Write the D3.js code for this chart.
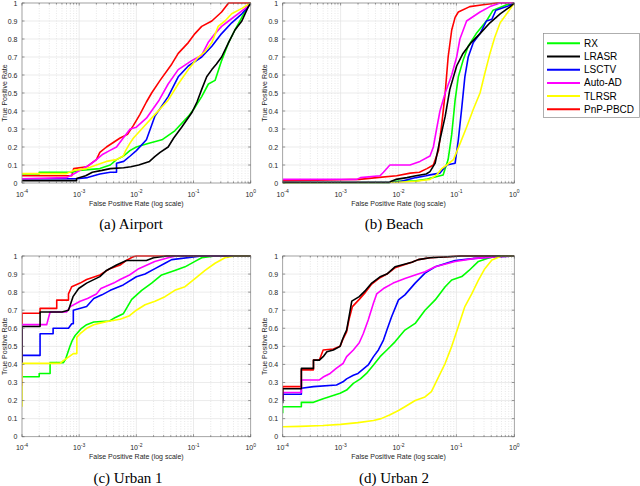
<!DOCTYPE html>
<html>
<head>
<meta charset="utf-8">
<script src="https://cdn.jsdelivr.net/npm/d3@7/dist/d3.min.js"></script>
<style>
  body { margin: 0; background: #fff; }
  svg { display: block; }
</style>
</head>
<body>
<div id="chart"></div>
<script>
// ---- legend / series ----
const methodNames = ["RX", "LRASR", "LSCTV", "Auto-AD", "TLRSR", "PnP-PBCD"];
const methodColors = ["#00ff00", "#000000", "#0000ff", "#ff00ff", "#ffff00", "#ff0000"];
// which series gets drawn first (red under the rest, black on top)
const drawOrder = [5, 0, 2, 3, 4, 1];

const xTickValues = [1e-4, 1e-3, 1e-2, 1e-1, 1];
const xTickExponents = ["-4", "-3", "-2", "-1", "0"];
const yTickValues = [0, 0.1, 0.2, 0.3, 0.4, 0.5, 0.6, 0.7, 0.8, 0.9, 1];
const yTickLabels = ["0", "0.1", "0.2", "0.3", "0.4", "0.5", "0.6", "0.7", "0.8", "0.9", "1"];

// ---- (a) Airport : [fpr, tpr] ----
const airportRX = [[1e-4,0.05],[2e-4,0.05],[2e-4,0.06],[7.4e-4,0.06],[1e-3,0.07],[2.3e-3,0.08],[3.5e-3,0.1],[4.5e-3,0.13],[6e-3,0.15],[7.7e-3,0.18],[1e-2,0.2],[1.6e-2,0.22],[2.8e-2,0.24],[4.7e-2,0.29],[8.1e-2,0.37],[0.106,0.42],[0.139,0.48],[0.182,0.55],[0.238,0.57],[0.31,0.68],[0.41,0.78],[0.53,0.85],[0.7,0.92],[0.85,0.97],[1,1]];
const airportLRASR = [[1e-4,0.013],[9e-4,0.013],[9e-4,0.025],[1.3e-3,0.04],[1.7e-3,0.06],[2.5e-3,0.07],[3.5e-3,0.08],[6e-3,0.085],[8e-3,0.09],[1.1e-2,0.1],[1.7e-2,0.12],[2.1e-2,0.146],[2.6e-2,0.17],[3.6e-2,0.2],[4.5e-2,0.25],[6.2e-2,0.31],[9.3e-2,0.39],[0.115,0.45],[0.139,0.52],[0.17,0.59],[0.209,0.63],[0.25,0.66],[0.31,0.7],[0.41,0.78],[0.53,0.85],[0.7,0.9],[0.91,0.98],[1,1]];
const airportLSCTV = [[1e-4,0.024],[9e-4,0.024],[1.4e-3,0.03],[2.3e-3,0.05],[3.5e-3,0.06],[4.5e-3,0.06],[4.5e-3,0.11],[6e-3,0.12],[7.8e-3,0.15],[1e-2,0.18],[1.5e-2,0.24],[2.1e-2,0.37],[3.6e-2,0.48],[5.4e-2,0.59],[8.1e-2,0.65],[0.139,0.7],[0.209,0.76],[0.31,0.83],[0.465,0.89],[0.7,0.94],[0.91,0.98],[1,1]];
const airportAutoAD = [[1e-4,0.024],[6e-4,0.03],[8e-4,0.05],[1.03e-3,0.07],[1.5e-3,0.1],[2e-3,0.13],[2.6e-3,0.16],[3.4e-3,0.18],[4.5e-3,0.2],[5.9e-3,0.25],[7.8e-3,0.3],[1e-2,0.31],[1.5e-2,0.36],[2.5e-2,0.46],[3.6e-2,0.55],[5.4e-2,0.63],[9.3e-2,0.68],[0.139,0.71],[0.18,0.78],[0.238,0.83],[0.31,0.87],[0.41,0.9],[0.6,0.94],[0.8,0.97],[1,1]];
const airportTLRSR = [[1e-4,0.052],[6e-4,0.052],[8e-4,0.07],[1.35e-3,0.08],[2e-3,0.1],[3e-3,0.12],[4.5e-3,0.13],[5.9e-3,0.15],[6.5e-3,0.18],[7.7e-3,0.22],[8.9e-3,0.25],[1.24e-2,0.3],[2.1e-2,0.38],[3.6e-2,0.46],[5.4e-2,0.55],[8.1e-2,0.63],[0.122,0.7],[0.159,0.73],[0.209,0.78],[0.27,0.87],[0.355,0.9],[0.465,0.94],[0.7,0.97],[1,1]];
const airportPnP = [[1e-4,0.04],[7.4e-4,0.04],[8e-4,0.08],[1.35e-3,0.09],[2e-3,0.13],[2.3e-3,0.17],[3e-3,0.2],[5.2e-3,0.25],[7e-3,0.27],[8.9e-3,0.32],[1.15e-2,0.38],[1.5e-2,0.45],[1.85e-2,0.5],[2.6e-2,0.57],[4.15e-2,0.66],[5.4e-2,0.72],[8.1e-2,0.78],[0.106,0.83],[0.139,0.87],[0.209,0.9],[0.31,0.95],[0.41,1],[1,1]];

// ---- (b) Beach ----
const beachRX = [[1e-4,0.003],[7e-3,0.003],[8e-3,0.01],[2e-2,0.012],[3e-2,0.02],[3.5e-2,0.026],[5.9e-2,0.045],[7.2e-2,0.13],[8.3e-2,0.27],[9.5e-2,0.46],[0.108,0.59],[0.13,0.68],[0.16,0.76],[0.22,0.83],[0.33,0.9],[0.43,0.96],[0.74,0.99],[1,1]];
const beachLRASR = [[1e-4,0.003],[7e-3,0.003],[7.5e-3,0.01],[9e-3,0.02],[1.4e-2,0.03],[2e-2,0.04],[3e-2,0.05],[3.5e-2,0.063],[4.3e-2,0.11],[5.2e-2,0.24],[6.4e-2,0.37],[7.7e-2,0.52],[0.101,0.65],[0.13,0.72],[0.18,0.78],[0.256,0.83],[0.38,0.89],[0.57,0.94],[0.85,0.98],[1,1]];
const beachLSCTV = [[1e-4,0.004],[1e-2,0.005],[2e-2,0.03],[3e-2,0.04],[3.5e-2,0.045],[5.2e-2,0.055],[6.8e-2,0.1],[9.5e-2,0.11],[0.108,0.24],[0.124,0.42],[0.14,0.59],[0.16,0.7],[0.196,0.78],[0.256,0.83],[0.33,0.9],[0.41,0.91],[0.48,0.96],[0.74,0.98],[1,1]];
const beachAutoAD = [[1e-4,0.02],[1.9e-3,0.02],[2.2e-3,0.03],[4.8e-3,0.04],[5.5e-3,0.06],[7.1e-3,0.1],[1.58e-2,0.1],[2.35e-2,0.12],[3.5e-2,0.15],[4e-2,0.2],[4.55e-2,0.3],[5.2e-2,0.4],[6.4e-2,0.5],[8.3e-2,0.6],[0.101,0.7],[0.115,0.8],[0.15,0.9],[0.256,0.95],[0.38,0.98],[0.57,1],[1,1]];
const beachTLRSR = [[1e-4,0.003],[1e-2,0.004],[2e-2,0.01],[3.5e-2,0.02],[4.55e-2,0.045],[5.6e-2,0.08],[6.8e-2,0.1],[8.9e-2,0.13],[0.116,0.22],[0.15,0.31],[0.196,0.41],[0.256,0.5],[0.31,0.61],[0.38,0.72],[0.46,0.81],[0.57,0.89],[0.74,0.94],[1,1]];
const beachPnP = [[1e-4,0.012],[1e-3,0.018],[2.1e-3,0.02],[4.2e-3,0.03],[9.3e-3,0.04],[1.6e-2,0.055],[2.3e-2,0.06],[3.1e-2,0.08],[4e-2,0.1],[4.9e-2,0.18],[5.6e-2,0.33],[6.4e-2,0.5],[7.2e-2,0.7],[8.3e-2,0.85],[0.095,0.92],[0.108,0.95],[0.17,0.98],[0.29,0.99],[0.5,1],[1,1]];

// ---- (c) Urban 1 ----
const urban1RX = [[1e-4,0.332],[2e-4,0.332],[2e-4,0.35],[3.1e-4,0.35],[3.1e-4,0.41],[5.3e-4,0.41],[5.8e-4,0.43],[6.4e-4,0.47],[6.9e-4,0.5],[7.5e-4,0.53],[8.5e-4,0.56],[1.1e-3,0.6],[1.35e-3,0.62],[1.8e-3,0.635],[3.4e-3,0.64],[4.3e-3,0.66],[5.9e-3,0.68],[7e-3,0.72],[8.3e-3,0.76],[1.24e-2,0.81],[1.85e-2,0.85],[2.77e-2,0.895],[4.7e-2,0.92],[7.1e-2,0.94],[0.106,0.97],[0.139,0.99],[0.238,1],[1,1]];
const urban1LRASR = [[1e-4,0.41],[1e-4,0.61],[2.07e-4,0.61],[2.07e-4,0.69],[5e-4,0.69],[6.5e-4,0.7],[7e-4,0.73],[7.8e-4,0.775],[9.8e-4,0.82],[1.35e-3,0.85],[2.3e-3,0.886],[3e-3,0.92],[4.5e-3,0.95],[6.7e-3,0.975],[1.5e-2,0.975],[2e-2,0.99],[3.4e-2,1],[1,1]];
const urban1LSCTV = [[1e-4,0.45],[2.07e-4,0.45],[2.07e-4,0.57],[3.5e-4,0.57],[3.5e-4,0.6],[6.5e-4,0.6],[7.4e-4,0.625],[7.9e-4,0.625],[7.9e-4,0.7],[1.35e-3,0.72],[1.8e-3,0.765],[2.5e-3,0.785],[3.5e-3,0.81],[5.9e-3,0.84],[1e-2,0.885],[1.42e-2,0.9],[2.12e-2,0.93],[3.17e-2,0.96],[4.15e-2,0.98],[0.139,1],[1,1]];
const urban1AutoAD = [[1e-4,0.28],[1e-4,0.62],[2.7e-4,0.62],[3.1e-4,0.69],[6e-4,0.69],[7e-4,0.72],[1.04e-3,0.75],[1.4e-3,0.765],[2e-3,0.79],[2.4e-3,0.82],[4e-3,0.85],[5.2e-3,0.87],[7.6e-3,0.895],[1.1e-2,0.93],[2.1e-2,0.97],[3.6e-2,0.99],[5e-2,1],[1,1]];
const urban1TLRSR = [[1e-4,0.166],[1e-4,0.406],[4.6e-4,0.406],[5.2e-4,0.42],[6.5e-4,0.44],[7.9e-4,0.46],[9.1e-4,0.46],[9.1e-4,0.55],[1.04e-3,0.57],[1.35e-3,0.6],[1.8e-3,0.62],[2.4e-3,0.63],[3.45e-3,0.64],[5.2e-3,0.65],[7.6e-3,0.67],[1e-2,0.7],[1.42e-2,0.73],[2.12e-2,0.75],[3.17e-2,0.775],[4.7e-2,0.81],[7.1e-2,0.83],[0.106,0.875],[0.159,0.92],[0.238,0.96],[0.355,0.99],[0.53,1],[1,1]];
const urban1PnP = [[1e-4,0.61],[1e-4,0.683],[2.07e-4,0.683],[2.07e-4,0.71],[4.05e-4,0.71],[4.05e-4,0.756],[6.5e-4,0.756],[6.5e-4,0.79],[7.4e-4,0.83],[1.04e-3,0.85],[1.35e-3,0.87],[2.3e-3,0.895],[3.45e-3,0.93],[5.2e-3,0.95],[6.7e-3,0.976],[8.8e-3,0.996],[1e-2,1],[1,1]];

// ---- (d) Urban 2 ----
const urban2RX = [[1e-4,0.13],[1e-4,0.166],[2.1e-4,0.166],[2.1e-4,0.19],[3.4e-4,0.19],[5e-4,0.21],[9.8e-4,0.24],[1.27e-3,0.258],[1.66e-3,0.295],[2.2e-3,0.32],[2.8e-3,0.35],[3.7e-3,0.397],[4.8e-3,0.443],[6.3e-3,0.48],[8.7e-3,0.525],[1.29e-2,0.59],[1.94e-2,0.627],[2.87e-2,0.7],[4.3e-2,0.757],[6.4e-2,0.83],[8.3e-2,0.867],[0.124,0.886],[0.165,0.92],[0.24,0.97],[0.35,0.987],[0.5,1],[1,1]];
const urban2LRASR = [[1e-4,0.185],[1e-4,0.265],[2.1e-4,0.265],[2.1e-4,0.378],[3.4e-4,0.378],[3.4e-4,0.424],[4.3e-4,0.424],[5e-4,0.443],[5.8e-4,0.47],[7.5e-4,0.48],[9.8e-4,0.5],[1.07e-3,0.535],[1.15e-3,0.56],[1.27e-3,0.59],[1.4e-3,0.664],[1.56e-3,0.75],[2.1e-3,0.775],[2.7e-3,0.81],[3.45e-3,0.85],[4.8e-3,0.885],[6.3e-3,0.9],[8.7e-3,0.94],[1.7e-2,0.965],[2.2e-2,0.98],[3.5e-2,0.99],[0.12,1],[1,1]];
const urban2LSCTV = [[1e-4,0.2],[1e-4,0.235],[2.1e-4,0.235],[2.1e-4,0.268],[3.4e-4,0.277],[8.5e-4,0.286],[1.1e-3,0.304],[1.27e-3,0.32],[1.66e-3,0.34],[2e-3,0.35],[3e-3,0.397],[3.7e-3,0.443],[4.5e-3,0.48],[5.5e-3,0.535],[6.3e-3,0.59],[7.6e-3,0.664],[1e-2,0.757],[1.29e-2,0.785],[1.94e-2,0.85],[2.87e-2,0.905],[4.3e-2,0.94],[9.5e-2,0.975],[0.21,0.987],[0.46,0.995],[1,1]];
const urban2AutoAD = [[1e-4,0.2],[1e-4,0.245],[2.1e-4,0.245],[2.1e-4,0.314],[4.3e-4,0.314],[5e-4,0.33],[6.6e-4,0.35],[8.5e-4,0.38],[1.1e-3,0.405],[1.27e-3,0.443],[1.66e-3,0.48],[2.1e-3,0.52],[2.46e-3,0.57],[3e-3,0.646],[3.7e-3,0.74],[4.2e-3,0.79],[5.5e-3,0.82],[8.1e-3,0.85],[1.29e-2,0.875],[1.94e-2,0.895],[2.87e-2,0.913],[4.3e-2,0.94],[9.5e-2,0.97],[0.21,0.987],[0.46,0.995],[1,1]];
const urban2TLRSR = [[1e-4,0.055],[2e-4,0.057],[5e-4,0.062],[1e-3,0.068],[2e-3,0.078],[3.7e-3,0.09],[5e-3,0.1],[7e-3,0.12],[1e-2,0.145],[1.29e-2,0.166],[1.94e-2,0.2],[2.87e-2,0.22],[3.7e-2,0.25],[4.9e-2,0.33],[6.4e-2,0.406],[8.3e-2,0.5],[0.108,0.61],[0.14,0.72],[0.184,0.79],[0.24,0.867],[0.31,0.93],[0.41,0.978],[0.6,1],[1,1]];
const urban2PnP = [[1e-4,0.21],[1e-4,0.277],[2.1e-4,0.277],[2.1e-4,0.37],[3.4e-4,0.37],[3.4e-4,0.424],[4.3e-4,0.424],[5e-4,0.48],[7.5e-4,0.485],[9.8e-4,0.5],[1.1e-3,0.54],[1.27e-3,0.58],[1.4e-3,0.65],[1.6e-3,0.72],[2.1e-3,0.76],[2.7e-3,0.8],[3.45e-3,0.845],[4.8e-3,0.88],[6.3e-3,0.9],[8.7e-3,0.935],[1.7e-2,0.965],[2.2e-2,0.98],[3.5e-2,0.99],[0.12,1],[1,1]];

// series listed in legend order
const panels = [
  { caption: "(a) Airport", left: 22, right: 250.7, top: 3, bottom: 183, capX: 131,
    series: [airportRX, airportLRASR, airportLSCTV, airportAutoAD, airportTLRSR, airportPnP] },
  { caption: "(b) Beach", left: 282.7, right: 514.3, top: 3, bottom: 183, capX: 394,
    series: [beachRX, beachLRASR, beachLSCTV, beachAutoAD, beachTLRSR, beachPnP] },
  { caption: "(c) Urban 1", left: 22, right: 250.7, top: 256, bottom: 436.7, capX: 128,
    series: [urban1RX, urban1LRASR, urban1LSCTV, urban1AutoAD, urban1TLRSR, urban1PnP] },
  { caption: "(d) Urban 2", left: 282.7, right: 514.3, top: 256, bottom: 436.7, capX: 394,
    series: [urban2RX, urban2LRASR, urban2LSCTV, urban2AutoAD, urban2TLRSR, urban2PnP] }
];

const sans = "'Liberation Sans', Arial, Helvetica, sans-serif";
const serif = "'Liberation Serif', 'Times New Roman', serif";

const svg = d3.select("#chart").append("svg")
  .attr("width", 640)
  .attr("height", 486);

svg.append("rect").attr("width", 640).attr("height", 486).attr("fill", "#fff");

function drawPanel(p, i) {
  const x = d3.scaleLog().domain([1e-4, 1]).range([p.left, p.right]);
  const y = d3.scaleLinear().domain([0, 1]).range([p.bottom, p.top]);
  const g = svg.append("g");

  const clipId = "clip" + i;
  svg.append("clipPath").attr("id", clipId)
    .append("rect")
    .attr("x", p.left).attr("y", p.top - 1)
    .attr("width", p.right - p.left).attr("height", p.bottom - p.top + 2);

  // minor x grid (dotted)
  const minor = x.ticks().filter(v => xTickValues.indexOf(v) < 0);
  g.append("g").selectAll("line").data(minor).enter().append("line")
    .attr("x1", d => x(d)).attr("x2", d => x(d))
    .attr("y1", p.top).attr("y2", p.bottom)
    .attr("stroke", "#d9d9d9").attr("stroke-width", 0.6)
    .attr("stroke-dasharray", "1,1.5");

  // major grids
  g.append("g").selectAll("line").data(xTickValues).enter().append("line")
    .attr("x1", d => x(d)).attr("x2", d => x(d))
    .attr("y1", p.top).attr("y2", p.bottom)
    .attr("stroke", "#e3e3e3").attr("stroke-width", 0.7);
  g.append("g").selectAll("line").data(yTickValues).enter().append("line")
    .attr("x1", p.left).attr("x2", p.right)
    .attr("y1", d => y(d)).attr("y2", d => y(d))
    .attr("stroke", "#e3e3e3").attr("stroke-width", 0.7);

  // curves
  const line = d3.line().x(d => x(d[0])).y(d => y(d[1]));
  const curves = g.append("g").attr("clip-path", "url(#" + clipId + ")");
  drawOrder.forEach(k => {
    curves.append("path")
      .datum(p.series[k])
      .attr("fill", "none")
      .attr("stroke", methodColors[k])
      .attr("stroke-width", 1.6)
      .attr("stroke-linejoin", "round")
      .attr("d", line);
  });

  // axes box and inward ticks
  g.append("rect")
    .attr("x", p.left).attr("y", p.top)
    .attr("width", p.right - p.left).attr("height", p.bottom - p.top)
    .attr("fill", "none").attr("stroke", "#8c8c8c").attr("stroke-width", 0.7);

  const ticks = g.append("g").attr("stroke", "#555").attr("stroke-width", 0.6);
  x.ticks().forEach(v => {
    const len = xTickValues.indexOf(v) >= 0 ? 2.5 : 1.6;
    ticks.append("line").attr("x1", x(v)).attr("x2", x(v)).attr("y1", p.bottom).attr("y2", p.bottom - len);
    ticks.append("line").attr("x1", x(v)).attr("x2", x(v)).attr("y1", p.top).attr("y2", p.top + len);
  });
  yTickValues.forEach(v => {
    ticks.append("line").attr("x1", p.left).attr("x2", p.left + 2.5).attr("y1", y(v)).attr("y2", y(v));
    ticks.append("line").attr("x1", p.right).attr("x2", p.right - 2.5).attr("y1", y(v)).attr("y2", y(v));
  });

  // y tick labels
  g.append("g").selectAll("text").data(yTickValues).enter().append("text")
    .attr("x", p.left - 4.5).attr("y", d => y(d) + 2.5)
    .attr("text-anchor", "end")
    .attr("font-family", sans).attr("font-size", 7).attr("fill", "#262626")
    .text((d, j) => yTickLabels[j]);

  // x tick labels 10^n
  xTickValues.forEach((v, j) => {
    const t = g.append("text")
      .attr("x", x(v)).attr("y", p.bottom + 13.5)
      .attr("text-anchor", "middle")
      .attr("font-family", sans).attr("font-size", 7).attr("fill", "#262626");
    t.append("tspan").text("10");
    t.append("tspan").attr("dy", -3.2).attr("font-size", 5).text(xTickExponents[j]);
  });

  // axis titles
  g.append("text")
    .attr("x", (p.left + p.right) / 2).attr("y", p.bottom + 22.5)
    .attr("text-anchor", "middle")
    .attr("font-family", sans).attr("font-size", 7).attr("fill", "#262626")
    .text("False Positive Rate (log scale)");
  g.append("text")
    .attr("transform", "translate(" + (p.left - 15.5) + "," + ((p.top + p.bottom) / 2) + ") rotate(-90)")
    .attr("text-anchor", "middle")
    .attr("font-family", sans).attr("font-size", 7).attr("fill", "#262626")
    .text("True Positive Rate");

  // caption
  g.append("text")
    .attr("x", p.capX).attr("y", p.bottom + 46)
    .attr("text-anchor", "middle")
    .attr("font-family", serif).attr("font-size", 15).attr("fill", "#000")
    .text(p.caption);
}

panels.forEach(drawPanel);

// legend
const legend = svg.append("g");
legend.append("rect")
  .attr("x", 543.5).attr("y", 33.5).attr("width", 96).attr("height", 84)
  .attr("fill", "#fff").attr("stroke", "#8c8c8c").attr("stroke-width", 0.7);
const rowY = d3.scalePoint().domain(methodNames).range([43.3, 109.3]);
methodNames.forEach((name, k) => {
  legend.append("line")
    .attr("x1", 547).attr("x2", 580)
    .attr("y1", rowY(name)).attr("y2", rowY(name))
    .attr("stroke", methodColors[k]).attr("stroke-width", 2);
  legend.append("text")
    .attr("x", 584).attr("y", rowY(name) + 3.5)
    .attr("font-family", sans).attr("font-size", 10).attr("fill", "#000")
    .text(name);
});
</script>
</body>
</html>
